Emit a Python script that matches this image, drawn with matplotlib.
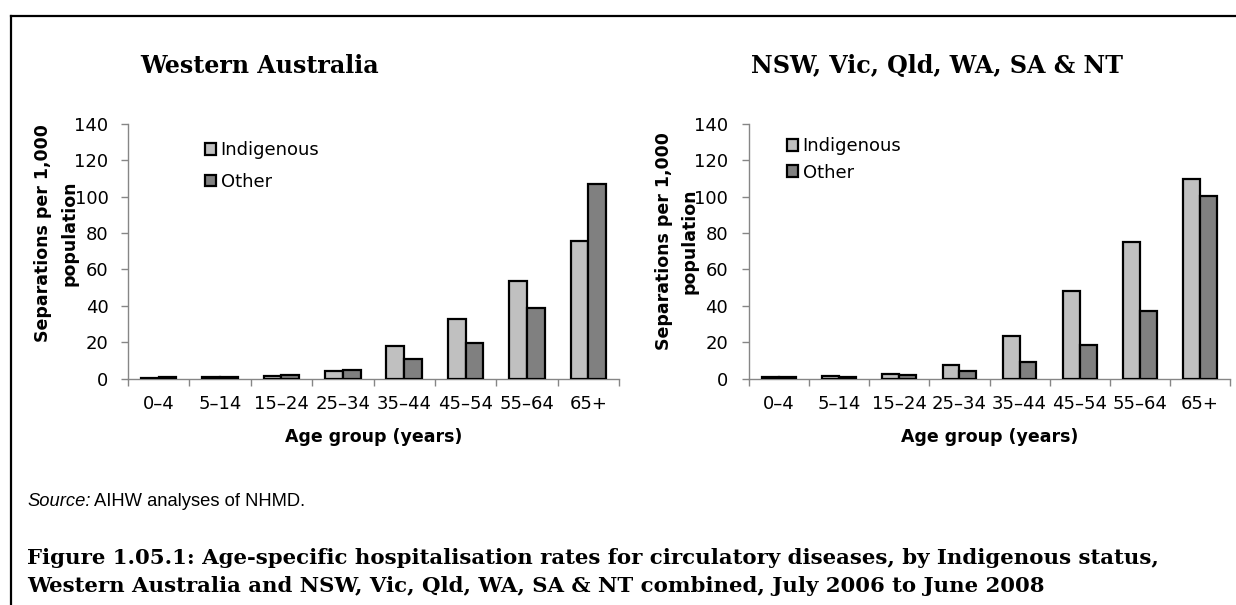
import matplotlib
matplotlib.use("Agg")
import matplotlib.pyplot as plt
from matplotlib.lines import Line2D
from matplotlib.patches import Patch
import numpy as np

categories = ["0–4", "5–14", "15–24", "25–34", "35–44", "45–54", "55–64", "65+"]
wa_indigenous = [0.5, 0.6, 1.4, 4.4, 18.0, 32.6, 53.7, 75.7]
wa_other = [0.8, 0.7, 2.0, 4.9, 10.6, 19.6, 38.8, 107.0]
all_indigenous = [1.1, 1.6, 2.4, 7.3, 23.5, 47.9, 75.0, 109.7]
all_other = [0.7, 0.9, 1.8, 3.9, 9.0, 18.3, 37.4, 100.5]
yticks = [0, 20, 40, 60, 80, 100, 120, 140]
series_names = ["Indigenous", "Other"]
panel_titles = ["Western Australia", "NSW, Vic, Qld, WA, SA & NT"]
ylabel_lines = ["Separations per 1,000", "population"]
xlabel = "Age group (years)"
source_label = "Source:"
source_text = "AIHW analyses of NHMD."
caption_lines = [
    "Figure 1.05.1: Age-specific hospitalisation rates for circulatory diseases, by Indigenous status,",
    "Western Australia and NSW, Vic, Qld, WA, SA & NT combined, July 2006 to June 2008",
]

W, H = 1236, 605
fig = plt.figure(figsize=(W / 100, H / 100), dpi=100)
fig.patch.set_facecolor("white")
renderer = fig.canvas.get_renderer()

SANS = ["DejaVu Sans"]
SERIF = ["DejaVu Serif"]
C_IND = "#C0C0C0"
C_OTH = "#808080"
AXC = "#868686"
FS = 13


def px(x, y):
    return x / W, 1 - y / H


def fit_size(text, target, base=13, **kw):
    t = fig.text(0, 0, text, fontsize=base, **kw)
    w = t.get_window_extent(renderer).width
    t.remove()
    return base * target / w


title_fs = fit_size(panel_titles[1], 371, family=SERIF, weight="bold")
ylab_fs = fit_size(ylabel_lines[0], 217, family=SANS, weight="bold")
cap_fs = fit_size(caption_lines[0], 1126, family=SERIF, weight="bold")
src_fs = fit_size("Source: AIHW analys", 173, family=["Liberation Sans"])


def make_panel(left, right, ind, oth, title, title_xy, title_ha, ylab_x, ylab_y,
               leg_xy, leg_spacing, bw, ypad):
    x0, y0 = px(left, 378.5)
    x1, y1 = px(right, 124)
    ax = fig.add_axes([x0, y0, x1 - x0, y1 - y0])
    x = np.arange(len(categories))
    ax.bar(x - bw / 2, ind, width=bw, color=C_IND, edgecolor="black", linewidth=1.6, zorder=3)
    ax.bar(x + bw / 2, oth, width=bw, color=C_OTH, edgecolor="black", linewidth=1.6, zorder=3)
    ax.set_xlim(-0.5, len(categories) - 0.5)
    ax.set_ylim(0, 140)
    ax.set_yticks(yticks)
    ax.set_yticklabels([str(v) for v in yticks], fontfamily=SANS, fontsize=FS)
    ax.set_xticks(x)
    ax.set_xticklabels(categories, fontfamily=SANS, fontsize=FS)
    ax.set_xticks(np.arange(len(categories) + 1) - 0.5, minor=True)
    ax.tick_params(axis="x", which="major", length=0, pad=12)
    ax.tick_params(axis="x", which="minor", length=5, color=AXC, width=1)
    ax.tick_params(axis="y", length=5, color=AXC, width=1, pad=ypad)
    for s in ["top", "right"]:
        ax.spines[s].set_visible(False)
    for s in ["left", "bottom"]:
        ax.spines[s].set_color(AXC)
        ax.spines[s].set_linewidth(1)
    ax.set_facecolor("none")

    tx, ty = px(*title_xy)
    fig.text(tx, ty, title, fontfamily=SERIF, fontweight="bold", fontsize=title_fs,
             ha=title_ha, va="baseline")
    for i, line in enumerate(ylabel_lines):
        lx, ly = px(ylab_x[i], ylab_y)
        fig.text(lx, ly, line, rotation=90, fontfamily=SANS, fontweight="bold",
                 fontsize=ylab_fs, ha="center", va="center")
    gx, gy = px((left + right) / 2, 437)
    fig.text(gx, gy, xlabel, fontfamily=SANS, fontweight="bold", fontsize=ylab_fs,
             ha="center", va="center")

    handles = [Patch(facecolor=C_IND, edgecolor="black", linewidth=1.6),
               Patch(facecolor=C_OTH, edgecolor="black", linewidth=1.6)]
    bx, by = px(*leg_xy)
    ax.legend(handles, series_names, loc="center left", bbox_to_anchor=(bx, by),
              bbox_transform=fig.transFigure, frameon=False, prop={"family": SANS, "size": FS},
              handlelength=0.62, handleheight=0.62, handletextpad=0.25, labelspacing=leg_spacing,
              borderpad=0, borderaxespad=0)
    return ax


make_panel(128, 619, wa_indigenous, wa_other, panel_titles[0], (260, 73), "center",
           (43, 70), 233.5, (205, 166), 0.75, 0.29, 9)
make_panel(749, 1230, all_indigenous, all_other, panel_titles[1], (1123, 73), "right",
           (664, 690), 241.5, (787, 159.5), 0.46, 0.28, 10)

# Source note
sx, sy = px(27, 502)
t = fig.text(sx, sy, source_label, fontfamily=["Liberation Sans"], fontstyle="italic",
             fontsize=src_fs, ha="left", va="center")
bb = t.get_window_extent(renderer)
fig.text(bb.x1 / W + 3 / W, sy, source_text, fontfamily=["Liberation Sans"], fontsize=src_fs,
         ha="left", va="center")

# Caption
for line, yy in zip(caption_lines, [564, 592]):
    cx, cy = px(27, yy)
    fig.text(cx, cy, line, fontfamily=SERIF, fontweight="bold", fontsize=cap_fs,
             ha="left", va="baseline")

# Border (top and left)
fig.add_artist(Line2D([10.5 / W, 1], [1 - 15.7 / H, 1 - 15.7 / H], color="black", linewidth=1.6,
                      transform=fig.transFigure))
fig.add_artist(Line2D([10.5 / W, 10.5 / W], [0, 1 - 15.7 / H], color="black", linewidth=1.6,
                      transform=fig.transFigure))

fig.savefig("out.png", dpi=100, facecolor="white")
